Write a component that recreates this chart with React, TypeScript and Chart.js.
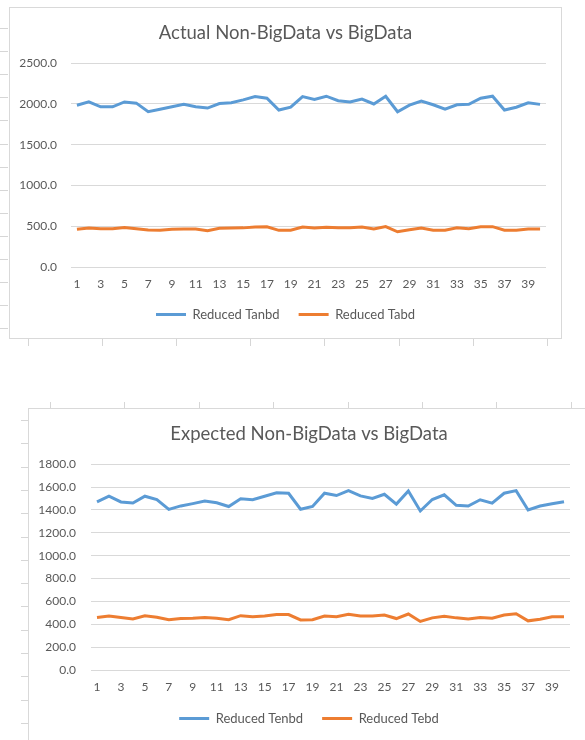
import React, { useEffect, useRef } from "react";
import { Chart, registerables } from "chart.js";

Chart.register(...registerables);

// ---------- data ----------
const categories = [
  "1", "2", "3", "4", "5", "6", "7", "8", "9", "10",
  "11", "12", "13", "14", "15", "16", "17", "18", "19", "20",
  "21", "22", "23", "24", "25", "26", "27", "28", "29", "30",
  "31", "32", "33", "34", "35", "36", "37", "38", "39", "40",
];

const actualTanbd = [
  1985, 2025, 1965, 1965, 2025, 2010, 1905, 1935, 1965, 1995,
  1965, 1950, 2005, 2015, 2050, 2090, 2070, 1925, 1960, 2090,
  2055, 2095, 2040, 2025, 2060, 2000, 2095, 1905, 1985, 2035,
  1990, 1935, 1990, 1995, 2070, 2095, 1925, 1960, 2015, 1995,
];
const actualTabd = [
  463, 478, 468, 468, 485, 470, 455, 450, 462, 465,
  465, 445, 475, 478, 480, 492, 494, 450, 450, 490,
  478, 488, 480, 480, 490, 465, 495, 432, 458, 478,
  450, 450, 480, 470, 495, 495, 452, 452, 465, 465,
];
const expectedTenbd = [
  1470, 1520, 1470, 1460, 1520, 1490, 1405, 1435, 1455, 1477,
  1463, 1430, 1497, 1490, 1520, 1550, 1546, 1406, 1430, 1546,
  1526, 1569, 1523, 1500, 1537, 1451, 1566, 1391, 1491, 1532,
  1440, 1434, 1489, 1460, 1546, 1569, 1400, 1434, 1454, 1472,
];
const expectedTebd = [
  460, 472, 460, 447, 475, 462, 440, 450, 453, 460,
  453, 440, 475, 466, 472, 485, 485, 438, 440, 472,
  466, 488, 472, 472, 481, 450, 490, 425, 456, 469,
  456, 447, 460, 453, 481, 492, 430, 444, 465, 465,
];

const actualYTicks = [0, 500, 1000, 1500, 2000, 2500];
const expectedYTicks = [0, 200, 400, 600, 800, 1000, 1200, 1400, 1600, 1800];

const actualTitle = "Actual Non-BigData vs BigData";
const expectedTitle = "Expected Non-BigData vs BigData";
const actualNames = ["Reduced Tanbd", "Reduced Tabd"];
const expectedNames = ["Reduced Tenbd", "Reduced Tebd"];

// ---------- styling ----------
const BLUE = "#5b9bd5";
const ORANGE = "#ed7d31";
const TEXT = "#595959";
const GRID = "#d9d9d9";
const FONT = "Lato, 'Open Sans', sans-serif";

type BoxProps = {
  left: number;
  top: number;
  width: number;
  height: number;
  frameWidth: number;
  frameHeight: number;
  title: string;
  names: string[];
  series: number[][];
  yTicks: number[];
  yAxisWidth: number;
  yTickPad: number;
  padRight: number;
  padBottom: number;
  titlePadTop: number;
  titlePadBottom: number;
  xAxisHeight: number;
  xTickPad: number;
  legendGap: number;
  centerShift: number;
};

function LineChartBox(p: BoxProps) {
  const ref = useRef<HTMLCanvasElement | null>(null);

  useEffect(() => {
    if (!ref.current) return;
    const colors = [BLUE, ORANGE];
    // Excel centres title and legend over the whole chart box; nudge them to match.
    const shiftBoxes = {
      id: "shiftBoxes",
      afterLayout(chart: any) {
        const boxes = [chart.legend, chart.titleBlock];
        boxes.forEach((b: any) => {
          if (b) {
            b.left += p.centerShift;
            b.right += p.centerShift;
          }
        });
      },
    };
    const chart = new Chart(ref.current, {
      type: "line",
      data: {
        labels: categories,
        datasets: p.series.map((s, i) => ({
          label: p.names[i],
          data: s,
          borderColor: colors[i],
          backgroundColor: colors[i],
          borderWidth: 3,
          pointRadius: 0,
          pointHoverRadius: 0,
          tension: 0,
          fill: false,
          pointStyle: "line",
        })),
      },
      plugins: [shiftBoxes],
      options: {
        animation: false,
        responsive: false,
        devicePixelRatio: 1,
        events: [],
        layout: {
          padding: { left: 0, right: p.padRight, top: 0, bottom: p.padBottom },
        },
        plugins: {
          title: {
            display: true,
            text: p.title,
            color: TEXT,
            font: { family: FONT, size: 18.5, weight: "normal" as any },
            padding: { top: p.titlePadTop, bottom: p.titlePadBottom },
          },
          legend: {
            display: true,
            position: "bottom",
            labels: {
              color: TEXT,
              font: { family: FONT, size: 13 },
              usePointStyle: true,
              pointStyleWidth: 30,
              padding: p.legendGap,
            },
          },
          tooltip: { enabled: false },
        },
        scales: {
          x: {
            type: "category",
            offset: true,
            grid: { display: false, drawTicks: false },
            border: { display: false },
            ticks: {
              autoSkip: false,
              maxRotation: 0,
              minRotation: 0,
              padding: p.xTickPad,
              color: TEXT,
              font: { family: FONT, size: 12 },
              callback: (_v: any, idx: number) => (idx % 2 === 0 ? categories[idx] : ""),
            },
            afterFit: (s: any) => {
              s.height = p.xAxisHeight;
            },
          },
          y: {
            min: p.yTicks[0],
            max: p.yTicks[p.yTicks.length - 1],
            grid: { color: GRID, lineWidth: 1, drawTicks: false },
            border: { display: false },
            ticks: {
              padding: p.yTickPad,
              color: TEXT,
              font: { family: FONT, size: 12 },
              callback: (v: any) => Number(v).toFixed(1),
            },
            afterBuildTicks: (axis: any) => {
              axis.ticks = p.yTicks.map((v) => ({ value: v }));
            },
            afterFit: (s: any) => {
              s.width = p.yAxisWidth;
            },
          },
        },
      } as any,
    });
    return () => chart.destroy();
  }, []);

  return (
    <>
      <div
        style={{
          position: "absolute",
          left: p.left,
          top: p.top,
          width: p.frameWidth,
          height: p.frameHeight,
          border: `1px solid ${GRID}`,
          boxSizing: "border-box",
          background: "#fff",
        }}
      />
      <canvas
        ref={ref}
        width={p.width}
        height={p.height}
        style={{ position: "absolute", left: p.left, top: p.top, width: p.width, height: p.height }}
      />
    </>
  );
}

function SheetLines() {
  const lines: React.ReactNode[] = [];
  const c = "#d6d6d6";
  // left row marks beside the first chart
  for (let k = 0; k < 14; k++) {
    lines.push(
      <div key={"a" + k} style={{ position: "absolute", left: 0, top: 28 + k * 23.1, width: 8, height: 1, background: c }} />
    );
  }
  // column marks under the first chart
  for (let k = 0; k < 8; k++) {
    lines.push(
      <div key={"b" + k} style={{ position: "absolute", left: 28 + k * 74.1, top: 338, width: 1, height: 8, background: c }} />
    );
  }
  // column marks above the second chart
  for (let k = 0; k < 8; k++) {
    lines.push(
      <div key={"c" + k} style={{ position: "absolute", left: 50 + k * 74.4, top: 402, width: 1, height: 6, background: c }} />
    );
  }
  // row marks beside the second chart
  for (let k = 0; k < 14; k++) {
    lines.push(
      <div key={"d" + k} style={{ position: "absolute", left: 21, top: 420 + k * 23.3, width: 7, height: 1, background: c }} />
    );
  }
  return <>{lines}</>;
}

export default function App() {
  return (
    <div
      style={{
        position: "absolute",
        left: 0,
        top: 0,
        width: 585,
        height: 740,
        overflow: "hidden",
        background: "#fff",
      }}
    >
      <SheetLines />
      <LineChartBox
        left={9}
        top={7}
        width={553}
        height={331}
        frameWidth={553}
        frameHeight={332}
        title={actualTitle}
        names={actualNames}
        series={[actualTanbd, actualTabd]}
        yTicks={actualYTicks}
        yAxisWidth={62}
        yTickPad={14}
        padRight={16}
        padBottom={7}
        titlePadTop={15}
        titlePadBottom={19}
        xAxisHeight={22}
        xTickPad={10}
        legendGap={19}
        centerShift={8}
      />
      <LineChartBox
        left={28}
        top={408}
        width={557}
        height={332}
        frameWidth={570}
        frameHeight={345}
        title={expectedTitle}
        names={expectedNames}
        series={[expectedTenbd, expectedTebd]}
        yTicks={expectedYTicks}
        yAxisWidth={63}
        yTickPad={15}
        padRight={15}
        padBottom={5}
        titlePadTop={15}
        titlePadBottom={19}
        xAxisHeight={23}
        xTickPad={10}
        legendGap={19}
        centerShift={10}
      />
    </div>
  );
}
